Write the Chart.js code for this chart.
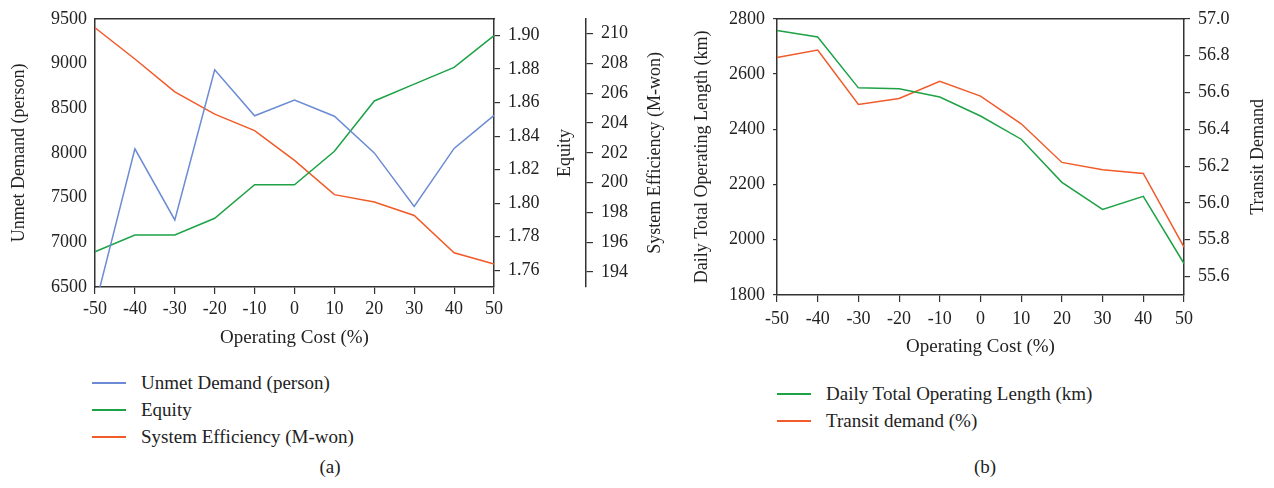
<!DOCTYPE html>
<html>
<head>
<meta charset="utf-8">
<script src="https://cdn.jsdelivr.net/npm/chart.js@4"></script>
<style>
  body { margin: 0; background: #fff; width: 1274px; height: 488px; position: relative; overflow: hidden;
         font-family: "Liberation Serif", serif; color: #222; }
  #chartA { position: absolute; left: 0; top: 0; }
  #chartB { position: absolute; left: 680px; top: 0; }
  .legend { position: absolute; font-size: 19px; }
  .legend .row { display: flex; align-items: center; height: 27px; }
  .legend .swatch { display: inline-block; width: 34px; height: 2px; margin-right: 15px; }
  .caption { position: absolute; font-size: 19px; transform: translateX(-50%); }
</style>
</head>
<body>
<canvas id="chartA" width="680" height="352"></canvas>
<canvas id="chartB" width="594" height="361"></canvas>
<div class="legend" id="legendA" style="left:92px; top:369px;"></div>
<div class="legend" id="legendB" style="left:777px; top:380px;"></div>
<div class="caption" style="left:330px; top:456px;">(a)</div>
<div class="caption" style="left:985px; top:456px;">(b)</div>
<script>
const costLabels = ['-50', '-40', '-30', '-20', '-10', '0', '10', '20', '30', '40', '50'];

// (a)
const unmetDemand = [6280, 8045, 7250, 8930, 8415, 8590, 8410, 8000, 7400, 8050, 8420];
const equity = [1.771, 1.781, 1.781, 1.791, 1.811, 1.811, 1.831, 1.861, 1.871, 1.881, 1.900];
const systemEfficiency = [210.4, 208.3, 206.1, 204.6, 203.5, 201.5, 199.2, 198.7, 197.8, 195.3, 194.55];
const unmetTicks = [6500, 7000, 7500, 8000, 8500, 9000, 9500];
const equityTicks = [1.76, 1.78, 1.80, 1.82, 1.84, 1.86, 1.88, 1.90];
const efficiencyTicks = [194, 196, 198, 200, 202, 204, 206, 208, 210];

// (b)
const operatingLength = [2758, 2734, 2550, 2547, 2517, 2448, 2364, 2208, 2110, 2157, 1914];
const transitDemand = [56.79, 56.83, 56.535, 56.567, 56.66, 56.58, 56.43, 56.22, 56.18, 56.16, 55.76];
const lengthTicks = [1800, 2000, 2200, 2400, 2600, 2800];
const transitTicks = [55.6, 55.8, 56.0, 56.2, 56.4, 56.6, 56.8, 57.0];

const BLUE = '#6b8cd4';
const GREEN = '#1ea246';
const RED = '#f15a29';
const AXIS = '#333';
const TEXT = '#222';
const FONT_FAMILY = '"Liberation Serif", serif';

Chart.defaults.font.family = FONT_FAMILY;
Chart.defaults.font.size = 18;
Chart.defaults.color = TEXT;
Chart.defaults.animation = false;

const fixWidth = (w) => (scale) => { scale.width = w; };
const fixHeight = (h) => (scale) => { scale.height = h; };
const setTicks = (values) => (scale) => { scale.ticks = values.map((value) => ({ value })); };
const plain = (v) => String(v);

// right-hand axis titles read bottom to top, chart.js would rotate them the other way
const sideTitles = {
  id: 'sideTitles',
  afterDraw(chart, args, opts) {
    const { ctx } = chart;
    (opts.items || []).forEach(({ scaleId, text, offset }) => {
      const s = chart.scales[scaleId];
      ctx.save();
      ctx.translate(s.right - offset, (s.top + s.bottom) / 2);
      ctx.rotate(-Math.PI / 2);
      ctx.font = `18px ${FONT_FAMILY}`;
      ctx.fillStyle = TEXT;
      ctx.textAlign = 'center';
      ctx.textBaseline = 'middle';
      ctx.fillText(text, 0, 0);
      ctx.restore();
    });
  },
};

const lineSet = (label, data, color, axis) => ({
  label,
  data,
  yAxisID: axis,
  borderColor: color,
  backgroundColor: color,
  borderWidth: 1.5,
  pointRadius: 0,
  tension: 0,
  fill: false,
});

const xAxis = (height, tickPad, titlePad) => ({
  type: 'category',
  position: 'bottom',
  labels: costLabels,
  offset: false,
  grid: { drawOnChartArea: false, tickLength: 7, color: AXIS, lineWidth: 1.2 },
  border: { color: AXIS, width: 1.5 },
  ticks: { padding: tickPad, maxRotation: 0, autoSkip: false },
  title: { display: true, text: 'Operating Cost (%)', font: { size: 19 }, padding: { top: 0, bottom: titlePad } },
  afterFit: fixHeight(height),
});

const topFrame = {
  type: 'category',
  position: 'top',
  labels: costLabels,
  offset: false,
  grid: { display: false },
  ticks: { display: false },
  border: { color: AXIS, width: 1.5 },
  afterFit: fixHeight(0),
};

const chartA = new Chart(document.getElementById('chartA'), {
  type: 'line',
  data: {
    labels: costLabels,
    datasets: [
      lineSet('Unmet Demand (person)', unmetDemand, BLUE, 'y'),
      lineSet('Equity', equity, GREEN, 'yEquity'),
      lineSet('System Efficiency (M-won)', systemEfficiency, RED, 'yEff'),
    ],
  },
  options: {
    responsive: false,
    layout: { padding: { top: 17, left: 0, right: 0, bottom: 0 } },
    plugins: {
      legend: { display: false },
      tooltip: { enabled: false },
      sideTitles: {
        items: [
          { scaleId: 'yEquity', text: 'Equity', offset: 21 },
          { scaleId: 'yEff', text: 'System Efficiency (M-won)', offset: 25 },
        ],
      },
    },
    scales: {
      x: xAxis(65, 4, 3),
      xTop: topFrame,
      y: {
        position: 'left',
        min: 6500,
        max: 9500,
        afterBuildTicks: setTicks(unmetTicks),
        afterFit: fixWidth(95),
        grid: { display: false, drawTicks: false },
        border: { color: AXIS, width: 1.5 },
        ticks: { padding: 8, callback: plain },
        title: { display: true, text: 'Unmet Demand (person)', padding: { top: 8 } },
      },
      yEquity: {
        position: 'right',
        min: 1.75,
        max: 1.91,
        afterBuildTicks: setTicks(equityTicks),
        afterFit: fixWidth(92),
        grid: { drawOnChartArea: false, tickLength: 6, color: AXIS, lineWidth: 1.2 },
        border: { color: AXIS, width: 1.5 },
        ticks: { padding: 8, callback: (v) => v.toFixed(2) },
      },
      yEff: {
        position: 'right',
        min: 193,
        max: 211,
        afterBuildTicks: setTicks(efficiencyTicks),
        afterFit: fixWidth(94),
        grid: { drawOnChartArea: false, tickLength: 7, color: AXIS, lineWidth: 1.2 },
        border: { color: AXIS, width: 1.5 },
        ticks: { padding: 8, callback: plain },
      },
    },
  },
  plugins: [sideTitles],
});

const chartB = new Chart(document.getElementById('chartB'), {
  type: 'line',
  data: {
    labels: costLabels,
    datasets: [
      lineSet('Daily Total Operating Length (km)', operatingLength, GREEN, 'y'),
      lineSet('Transit demand (%)', transitDemand, RED, 'yTransit'),
    ],
  },
  options: {
    responsive: false,
    layout: { padding: { top: 17, left: 0, right: 0, bottom: 0 } },
    plugins: {
      legend: { display: false },
      tooltip: { enabled: false },
      sideTitles: {
        items: [{ scaleId: 'yTransit', text: 'Transit Demand', offset: 16 }],
      },
    },
    scales: {
      x: xAxis(66, 6, 3),
      xTop: topFrame,
      y: {
        position: 'left',
        min: 1800,
        max: 2800,
        afterBuildTicks: setTicks(lengthTicks),
        afterFit: fixWidth(97),
        grid: { drawOnChartArea: false, tickLength: 4, color: AXIS, lineWidth: 1.2 },
        border: { color: AXIS, width: 1.5 },
        ticks: { padding: 8, callback: plain },
        title: { display: true, text: 'Daily Total Operating Length (km)', padding: { top: 11 } },
      },
      yTransit: {
        position: 'right',
        min: 55.5,
        max: 57.0,
        afterBuildTicks: setTicks(transitTicks),
        afterFit: fixWidth(90),
        grid: { drawOnChartArea: false, tickLength: 6, color: AXIS, lineWidth: 1.2 },
        border: { color: AXIS, width: 1.5 },
        ticks: { padding: 8, callback: (v) => v.toFixed(1) },
      },
    },
  },
  plugins: [sideTitles],
});

// legends built from the chart datasets
const buildLegend = (chart, el) => {
  chart.data.datasets.forEach((ds) => {
    const row = document.createElement('div');
    row.className = 'row';
    const sw = document.createElement('span');
    sw.className = 'swatch';
    sw.style.background = ds.borderColor;
    const txt = document.createElement('span');
    txt.textContent = ds.label;
    row.append(sw, txt);
    el.append(row);
  });
};
buildLegend(chartA, document.getElementById('legendA'));
buildLegend(chartB, document.getElementById('legendB'));
</script>
</body>
</html>
